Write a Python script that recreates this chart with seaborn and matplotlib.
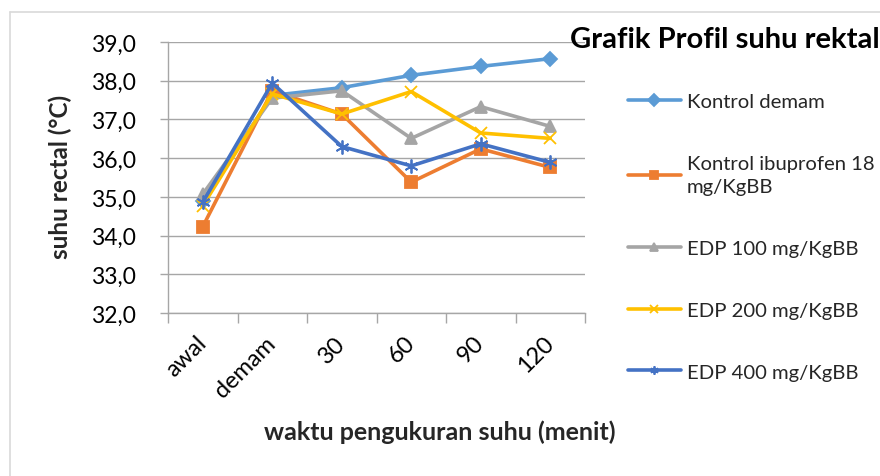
import matplotlib
matplotlib.use("Agg")
import matplotlib.pyplot as plt
import seaborn as sns
import pandas as pd
from matplotlib.lines import Line2D
from matplotlib.ticker import FixedLocator, FuncFormatter

categories = ["awal", "demam", "30", "60", "90", "120"]
series_names = ["Kontrol demam", "Kontrol ibuprofen 18\nmg/KgBB", "EDP 100 mg/KgBB",
                "EDP 200 mg/KgBB", "EDP 400 mg/KgBB"]
kontrol_demam = [34.90, 37.62, 37.82, 38.14, 38.37, 38.57]
kontrol_ibuprofen = [34.23, 37.74, 37.14, 35.38, 36.24, 35.76]
edp_100 = [35.07, 37.55, 37.74, 36.51, 37.33, 36.82]
edp_200 = [34.77, 37.66, 37.14, 37.72, 36.65, 36.51]
edp_400 = [34.86, 37.94, 36.30, 35.80, 36.37, 35.89]
values = [kontrol_demam, kontrol_ibuprofen, edp_100, edp_200, edp_400]

colors = ["#5B9BD5", "#ED7D31", "#A5A5A5", "#FFC000", "#4472C4"]
markers = ["D", "s", "^", "x", (6, 2, 0)]
msizes = [7, 9, 9, 9, 10]

sns.set_theme(style="white")
plt.rcParams["font.family"] = ["Lato", "DejaVu Sans"]

fig = plt.figure(figsize=(8.8, 4.77), dpi=100)
ax = fig.add_axes([168/880, 1-314/477, (585-168)/880, (314-43)/477])

for name, vals, c, m, ms in zip(series_names, values, colors, markers, msizes):
    df = pd.DataFrame({"waktu": categories, "suhu": vals})
    sns.lineplot(data=df, x="waktu", y="suhu", ax=ax, color=c, marker=m,
                 markersize=ms, markeredgecolor=c, markerfacecolor=c,
                 markeredgewidth=1.3, linewidth=2.6, sort=False, label=name)

ax.set_xlim(-0.5, len(categories) - 0.5)
ax.set_ylim(32, 39)
ax.set_yticks([32, 33, 34, 35, 36, 37, 38, 39])
ax.yaxis.set_major_formatter(FuncFormatter(lambda v, p: f"{v:.1f}".replace(".", ",")))
ax.grid(axis="y", color="#A6A6A6", linewidth=1.0)
ax.grid(axis="x", visible=False)
ax.set_axisbelow(True)

for s in ["top", "right"]:
    ax.spines[s].set_visible(False)
for s in ["left", "bottom"]:
    ax.spines[s].set_color("#A6A6A6")
    ax.spines[s].set_linewidth(1.0)

ax.tick_params(axis="y", which="major", direction="out", length=6, width=1.0,
               color="#A6A6A6", labelsize=16.5, pad=17, left=True, labelcolor="#000000")
ax.xaxis.set_minor_locator(FixedLocator([i - 0.5 for i in range(len(categories) + 1)]))
ax.tick_params(axis="x", which="minor", direction="out", length=7, width=1.0,
               color="#A6A6A6", bottom=True)
ax.tick_params(axis="x", which="major", length=0, labelsize=17, pad=19, labelcolor="#000000")
ax.set_xticks(range(len(categories)))
ax.set_xticklabels(categories, rotation=45, ha="right", va="center", rotation_mode="anchor")

ax.set_xlabel("waktu pengukuran suhu (menit)", fontsize=18, fontweight="bold")
ax.set_ylabel("suhu rectal (°C)", fontsize=17.5, fontweight="bold")
ax.xaxis.set_label_coords((440-168)/417, (314-432)/271)
ax.yaxis.set_label_coords((60-168)/417, (314-177)/271)
ax.xaxis.label.set_va("center")
ax.yaxis.label.set_va("center")

fig.text(570/880, 1-40/477, "Grafik Profil suhu rektal", fontsize=21, fontweight="bold",
         ha="left", va="center", color="#000000")

leg = ax.legend(loc="upper left", bbox_to_anchor=(628/880, 1-94/477),
                bbox_transform=fig.transFigure, frameon=False, fontsize=14.6,
                handlelength=2.6, handletextpad=0.3, labelspacing=2.2,
                borderpad=0, borderaxespad=0)
for h in leg.legend_handles:
    h.set_markersize(6)
leg.get_texts()[1].set_linespacing(1.45)

fig.add_artist(Line2D([10/880, 10/880], [0, 1-13/477], transform=fig.transFigure,
                      color="#D9D9D9", linewidth=1.2))
fig.add_artist(Line2D([10/880, 1], [1-13/477, 1-13/477], transform=fig.transFigure,
                      color="#D9D9D9", linewidth=1.2))

fig.savefig("out.png", dpi=100, facecolor="white")
